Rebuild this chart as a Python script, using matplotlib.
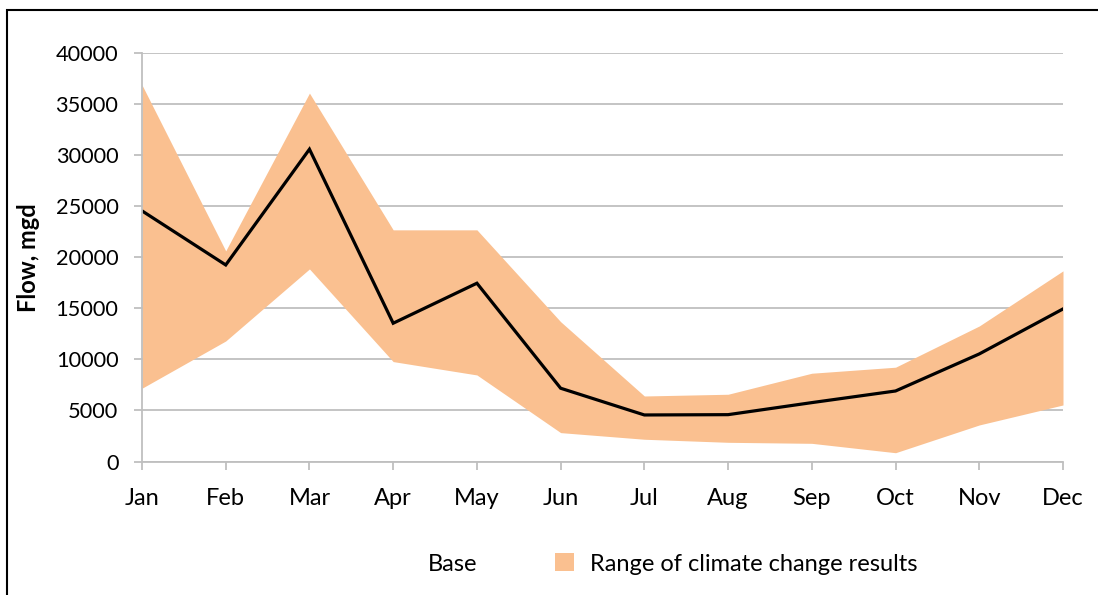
import matplotlib
matplotlib.use("Agg")
import matplotlib.pyplot as plt
from matplotlib.patches import Rectangle, Patch
from matplotlib.lines import Line2D

months = ["Jan", "Feb", "Mar", "Apr", "May", "Jun", "Jul", "Aug", "Sep", "Oct", "Nov", "Dec"]
base = [24560, 19260, 30600, 13550, 17470, 7180, 4560, 4590, 5770, 6910, 10540, 14950]
range_high = [36900, 20640, 36100, 22700, 22700, 13700, 6420, 6590, 8650, 9240, 13280, 18680]
range_low = [7180, 11810, 18870, 9790, 8480, 2830, 2180, 1880, 1780, 860, 3580, 5540]
yticks = [0, 5000, 10000, 15000, 20000, 25000, 30000, 35000, 40000]

plt.rcParams['font.family'] = ['Lato', 'DejaVu Sans']

W, H = 1098, 595
fig = plt.figure(figsize=(W / 100, H / 100), dpi=100)
ax = fig.add_axes([142 / W, 1 - 461.5 / H, (1063 - 142) / W, (461.5 - 53.3) / H])

x = list(range(len(months)))
fill_color = "#FAC090"
ax.fill_between(x, range_low, range_high, color=fill_color, linewidth=0, zorder=2)
ax.plot(x, base, color="black", linewidth=2.3, zorder=3, solid_joinstyle="miter")

ax.set_xlim(0, len(months) - 1)
ax.set_ylim(0, 40000)
ax.set_yticks(yticks)
ax.set_yticklabels([str(v) for v in yticks])
ax.set_xticks(x)
ax.set_xticklabels(months)

grid_c = "#BFBFBF"
ax.yaxis.grid(True, color=grid_c, linewidth=1.3, zorder=1)
ax.set_axisbelow(True)
for s in ["top", "right"]:
    ax.spines[s].set_visible(False)
for s in ["left", "bottom"]:
    ax.spines[s].set_color(grid_c)
    ax.spines[s].set_linewidth(1.3)
    ax.spines[s].set_zorder(4)
ax.tick_params(axis="both", colors=grid_c, length=6, width=1.3, labelcolor="black")
ax.tick_params(axis="y", pad=11, labelsize=15.7)
ax.tick_params(axis="x", pad=13, labelsize=17)

ax.set_ylabel("Flow, mgd", fontsize=17, fontweight="bold", labelpad=11)

handles = [Line2D([], [], color="white", linewidth=0),
           Patch(facecolor=fill_color, edgecolor="none")]
fig.legend(handles, ["Base", "Range of climate change results"], ncol=2,
           loc="center", bbox_to_anchor=(655 / W, 1 - 564 / H), frameon=False,
           fontsize=17, handlelength=0.8, handleheight=0.8, columnspacing=3.3, handletextpad=0.7)

fig.patches.append(Rectangle((7 / W, -0.1), 1.2, 1 - 10 / H + 0.1, transform=fig.transFigure,
                             fill=False, edgecolor="black", linewidth=1.5))

fig.savefig("out.png", dpi=100)
